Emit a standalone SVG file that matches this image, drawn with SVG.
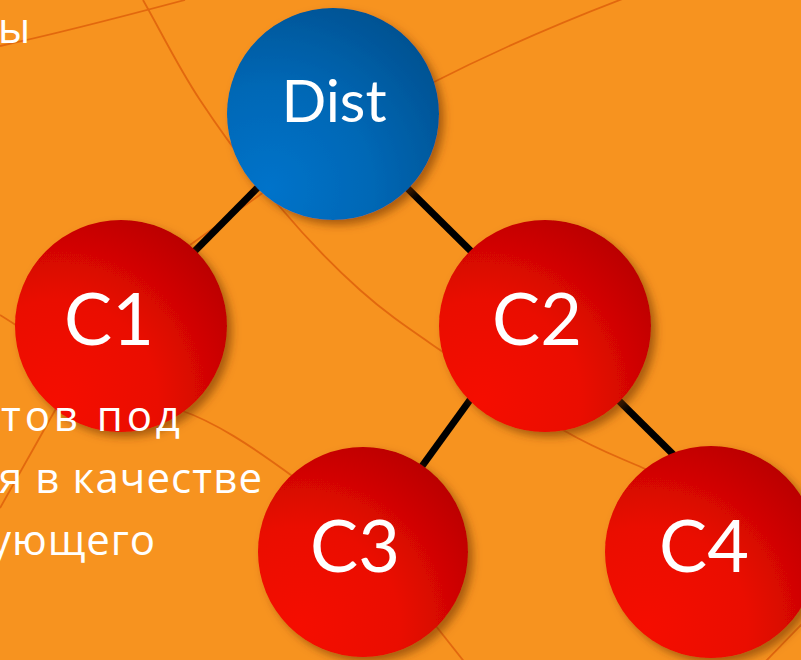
<svg xmlns="http://www.w3.org/2000/svg" width="801" height="660" viewBox="0 0 801 660">
  <style>
    .bgline { fill: none; stroke: #E2680E; stroke-width: 1.8; }
    .conn { stroke: #000; stroke-width: 7; stroke-linecap: butt; }
    .red { fill: url(#redGrad); filter: url(#shadow); }
    .blue { fill: url(#blueGrad); filter: url(#shadow); }
    .label { fill: #fff; font-family: Lato, "Open Sans", "DejaVu Sans", sans-serif; text-anchor: middle; }
    .side { fill: #fff; font-family: "Open Sans", "Noto Sans", "DejaVu Sans", sans-serif; font-size: 42px; }
  </style>
  <defs>
    <radialGradient id="redGrad" cx="0.2" cy="0.85" r="1.05" fx="0.2" fy="0.85">
      <stop offset="0" stop-color="#F50E04"/>
      <stop offset="0.45" stop-color="#EA0A04"/>
      <stop offset="1" stop-color="#B20000"/>
    </radialGradient>
    <radialGradient id="blueGrad" cx="0.2" cy="0.85" r="1.05" fx="0.2" fy="0.85">
      <stop offset="0" stop-color="#0073CA"/>
      <stop offset="0.45" stop-color="#0068B6"/>
      <stop offset="1" stop-color="#004E8C"/>
    </radialGradient>
    <filter id="shadow" x="-20%" y="-20%" width="145%" height="145%">
      <feDropShadow dx="5" dy="5" stdDeviation="4" flood-color="#6B3000" flood-opacity="0.55"/>
    </filter>
  </defs>

  <rect x="0" y="0" width="801" height="660" fill="#F7931F"/>

  <g id="background-lines">
    <path class="bgline" d="M0,46 C60,33 110,20 185,0"/>
    <path class="bgline" d="M143,0 C162,33.3 177.2,65.5 200,100 C222.8,134.5 253.3,175.3 280,207 C306.7,238.7 333.3,266.2 360,290 C386.7,313.8 406.2,326.7 440,350 C473.8,373.3 529.2,410.3 563,430 C596.8,449.7 616.8,456.3 643,468 C669.2,479.7 694.3,489.3 720,500"/>
    <path class="bgline" d="M268,189 L190,245"/>
    <path class="bgline" d="M430,84 Q520,38 625,-2"/>
    <path class="bgline" d="M0,315 C40,340 120,395 180,410 C215,422 250,445 295,478"/>
    <path class="bgline" d="M0,508 L58,405"/>
    <path class="bgline" d="M428,616 L466,664"/>
    <path class="bgline" d="M763,664 L804,622"/>
  </g>

  <g id="connectors">
    <line class="conn" x1="275" y1="170" x2="180" y2="266"/>
    <line class="conn" x1="390" y1="171" x2="487" y2="267"/>
    <line class="conn" x1="483" y1="382" x2="412" y2="480"/>
    <line class="conn" x1="600" y1="382" x2="697" y2="478"/>
  </g>

  <g id="node-dist">
    <circle class="blue" cx="333" cy="114" r="106"/>
    <text class="label" x="334" y="122" font-size="59">Dist</text>
  </g>
  <g id="node-c1">
    <circle class="red" cx="121" cy="326" r="106"/>
    <text class="label" x="109" y="345" font-size="72">C1</text>
  </g>
  <g id="node-c2">
    <circle class="red" cx="545" cy="326" r="106"/>
    <text class="label" x="537" y="345" font-size="72">C2</text>
  </g>
  <g id="node-c3">
    <circle class="red" cx="363" cy="552" r="105"/>
    <text class="label" x="355" y="572" font-size="72">C3</text>
  </g>
  <g id="node-c4">
    <circle class="red" cx="711" cy="552" r="106"/>
    <text class="label" x="704" y="572" font-size="72">C4</text>
  </g>

  <g id="side-text">
    <text class="side" x="-2" y="43" textLength="25">ы</text>
    <text class="side" x="1" y="431" textLength="179">тов под</text>
    <text class="side" x="-1" y="493" textLength="263">я в качестве</text>
    <text class="side" x="-10" y="555" textLength="165">ующего</text>
  </g>
</svg>
